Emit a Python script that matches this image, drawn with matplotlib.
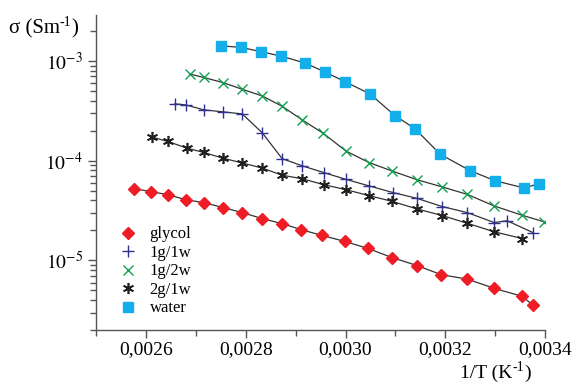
import math
import matplotlib
matplotlib.use('Agg')
import matplotlib.pyplot as plt
from matplotlib.ticker import FixedLocator, FuncFormatter, LogLocator

plt.rcParams['font.family'] = ['Liberation Serif', 'DejaVu Serif']
plt.rcParams['mathtext.fontset'] = 'stix'

# 1/T (K^-1) and conductivity sigma (S/m) for each sample
x_glycol = [0.002576, 0.002610, 0.002644, 0.002680, 0.002716, 0.002755, 0.002793,
            0.002833, 0.002873, 0.002911, 0.002953, 0.002999, 0.003045, 0.003093,
            0.003143, 0.003192, 0.003244, 0.003298, 0.003354, 0.003376]
y_glycol = [5.25e-5, 4.9e-5, 4.57e-5, 4.07e-5, 3.8e-5, 3.39e-5, 3.02e-5,
            2.63e-5, 2.34e-5, 2.04e-5, 1.78e-5, 1.55e-5, 1.32e-5, 1.07e-5,
            8.9e-6, 7.2e-6, 6.5e-6, 5.25e-6, 4.37e-6, 3.55e-6]

x_1g1w = [0.002658, 0.002680, 0.002716, 0.002755, 0.002793, 0.002833, 0.002873,
          0.002913, 0.002957, 0.003001, 0.003047, 0.003095, 0.003143, 0.003194,
          0.003244, 0.003298, 0.003324, 0.003376]
y_1g1w = [3.72e-4, 3.63e-4, 3.24e-4, 3.09e-4, 2.95e-4, 1.91e-4, 1.05e-4,
          8.9e-5, 7.6e-5, 6.5e-5, 5.6e-5, 4.8e-5, 4.2e-5, 3.47e-5,
          3.02e-5, 2.4e-5, 2.5e-5, 1.9e-5]

x_1g2w = [0.002688, 0.002716, 0.002755, 0.002793, 0.002833, 0.002873, 0.002913,
          0.002955, 0.003001, 0.003047, 0.003093, 0.003143, 0.003194, 0.003244,
          0.003298, 0.003354, 0.003398]
y_1g2w = [7.4e-4, 6.84e-4, 6.07e-4, 5.21e-4, 4.47e-4, 3.52e-4, 2.57e-4,
          1.89e-4, 1.25e-4, 9.6e-5, 7.9e-5, 6.46e-5, 5.46e-5, 4.6e-5,
          3.52e-5, 2.84e-5, 2.44e-5]

x_2g1w = [0.002612, 0.002644, 0.002682, 0.002716, 0.002755, 0.002793, 0.002833,
          0.002873, 0.002913, 0.002957, 0.003001, 0.003047, 0.003093, 0.003143,
          0.003194, 0.003244, 0.003298, 0.003354]
y_2g1w = [1.73e-4, 1.56e-4, 1.34e-4, 1.21e-4, 1.06e-4, 9.5e-5, 8.45e-5,
          7.16e-5, 6.6e-5, 5.75e-5, 5.13e-5, 4.47e-5, 3.92e-5, 3.29e-5,
          2.82e-5, 2.36e-5, 1.94e-5, 1.66e-5]

x_water = [0.002751, 0.002791, 0.002831, 0.002871, 0.002919, 0.002959, 0.002999,
           0.003049, 0.003099, 0.003139, 0.003190, 0.003250, 0.003300, 0.003358,
           0.003388]
y_water = [1.42e-3, 1.37e-3, 1.24e-3, 1.12e-3, 9.55e-4, 7.76e-4, 6.21e-4,
           4.68e-4, 2.84e-4, 2.1e-4, 1.16e-4, 7.94e-5, 6.3e-5, 5.33e-5,
           5.89e-5]

series = [
    ('glycol', x_glycol, y_glycol, 'D', '#ee1c25', 6, 1),
    ('1g/1w', x_1g1w, y_1g1w, '+', '#2e3192', 8, 1),
    ('1g/2w', x_1g2w, y_1g2w, 'x', '#12a150', 7, 1),
    ('2g/1w', x_2g1w, y_2g1w, (6, 2, 0), '#231f20', 8, 1.2),
    ('water', x_water, y_water, 's', '#14aeeb', 7, 1),
]

fig = plt.figure(figsize=(5.75, 3.83), dpi=100)
ax = fig.add_axes([0.167, 0.138, 0.781, 0.823])

for name, xs, ys, m, c, ms, mew in series:
    ax.plot(xs, ys, color='#333333', lw=0.9, zorder=2)
    ax.plot(xs, ys, ls='none', marker=m, color=c, ms=ms, mew=mew, label=name, zorder=3)

ax.set_yscale('log')
ax.set_xlim(0.0025, 0.0034)
ax.set_ylim(2e-6, 2.9e-3)

ax.xaxis.set_major_locator(FixedLocator([0.0026, 0.0028, 0.0030, 0.0032, 0.0034]))
ax.xaxis.set_minor_locator(FixedLocator([0.0025, 0.0027, 0.0029, 0.0031, 0.0033]))
ax.xaxis.set_major_formatter(FuncFormatter(lambda v, p: f'{v:.4f}'.replace('.', ',')))
ax.yaxis.set_major_locator(FixedLocator([1e-5, 1e-4, 1e-3]))
ax.yaxis.set_major_formatter(FuncFormatter(lambda v, p: '$10^{%d}$' % round(math.log10(v))))
ax.yaxis.set_minor_locator(LogLocator(base=10, subs=range(2, 10)))
ax.yaxis.set_minor_formatter(FuncFormatter(lambda v, p: ''))

ax.tick_params(which='major', direction='out', length=6, width=1, labelsize=14, color='#555555')
ax.tick_params(axis='x', which='major', pad=2)
ax.tick_params(which='minor', direction='out', length=4, width=1, color='#555555')

for s in ['top', 'right']:
    ax.spines[s].set_visible(False)
for s in ['left', 'bottom']:
    ax.spines[s].set_color('#555555')
    ax.spines[s].set_linewidth(1)

# axis labels with a raised "-1", built piece by piece in pixel positions
renderer = fig.canvas.get_renderer()
W, H = fig.bbox.width, fig.bbox.height

def sup_label(x_px, base_px, main, sup, tail, size, sup_size, rise):
    t = fig.text(x_px / W, 1 - base_px / H, main, fontsize=size, va='baseline')
    x1 = t.get_window_extent(renderer).x1
    s = fig.text(x1 / W, 1 - (base_px - rise) / H, sup, fontsize=sup_size, va='baseline')
    x2 = s.get_window_extent(renderer).x1
    fig.text(x2 / W, 1 - base_px / H, tail, fontsize=size, va='baseline')

sup_label(9, 33, 'σ (Sm', '-1', ')', 15, 10, 7)
sup_label(460, 378, '1/T (K', '-1', ')', 14, 10, 7)

ax.legend(loc='upper left', bbox_to_anchor=(0.034, 0.35), frameon=False, fontsize=12,
          handletextpad=0.7, labelspacing=0.15, handlelength=1.2, borderaxespad=0)

fig.savefig('out.png', dpi=100)
